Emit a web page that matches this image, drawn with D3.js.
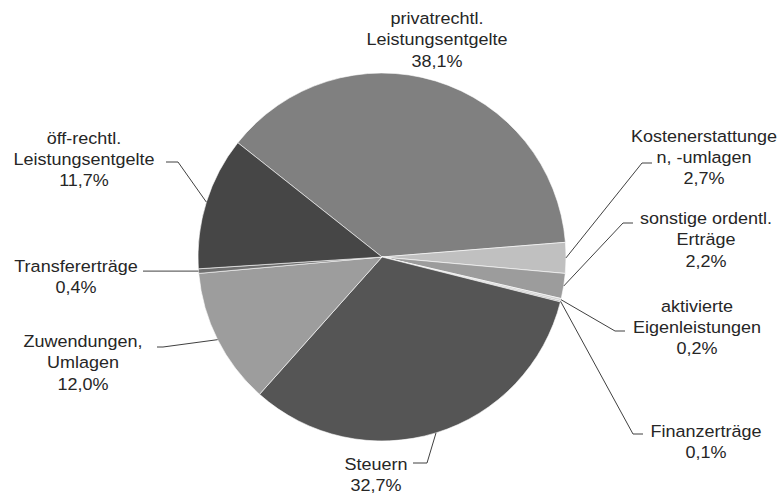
<!DOCTYPE html>
<html>
<head>
<meta charset="utf-8">
<script src="https://cdn.jsdelivr.net/npm/d3@7"></script>
<style>
body{margin:0;background:#fff;}
text{font-family:"Liberation Sans",Arial,sans-serif;font-size:17px;fill:#262626;}
</style>
</head>
<body>
<div id="chart"></div>
<script>
// data, clockwise starting with the big slice on top
var categories = [
    ['privatrechtl.', 'Leistungsentgelte'],
    ['Kostenerstattunge', 'n, -umlagen'],
    ['sonstige ordentl.', 'Erträge'],
    ['aktivierte', 'Eigenleistungen'],
    ['Finanzerträge'],
    ['Steuern'],
    ['Zuwendungen,', 'Umlagen'],
    ['Transfererträge'],
    ['öff-rechtl.', 'Leistungsentgelte']
];
var values = [38.1, 2.7, 2.2, 0.2, 0.1, 32.7, 12.0, 0.4, 11.7];
var colors = ['#808080', '#c0c0c0', '#9c9c9c', '#d4d4d4', '#8a8a8a', '#555555', '#9d9d9d', '#707070', '#464646'];

// where each label sits (text centre x, first baseline y, leader elbow, leader end)
var labelPos = [
    {x:437, y:24,  elbow:null},
    {x:704, y:141.5, elbow:[642,163], end:652},
    {x:706, y:224, elbow:[623,223], end:633},
    {x:697, y:311.5, elbow:[615,331], end:625},
    {x:706, y:437, elbow:[633,434], end:643},
    {x:376, y:470, elbow:[427,463], end:413},
    {x:83,  y:347, elbow:[163,347], end:157},
    {x:76,  y:272, elbow:null, end:143},
    {x:84,  y:143.5, elbow:[178,162], end:166}
];

var W = 782, H = 495;
var cx = 382, cy = 257, r = 184;
var start = -51.6 * Math.PI / 180;
var lineH = 21.5, stretch = 1.06;

var svg = d3.select('#chart')
    .append('svg')
    .attr('width', W)
    .attr('height', H);

var pie = d3.pie()
    .sort(null)
    .value(function(d){ return d; })
    .startAngle(start)
    .endAngle(start + 2 * Math.PI);

var arcs = pie(values);

var arc = d3.arc().innerRadius(0).outerRadius(r);

var g = svg.append('g').attr('transform', 'translate(' + cx + ',' + cy + ')');

g.selectAll('path')
    .data(arcs)
    .enter().append('path')
    .attr('d', arc)
    .style('fill', function(d, i){ return colors[i]; })
    .style('stroke', '#fff')
    .style('stroke-width', 0.6);

// leader lines from the slice middle on the rim
var fmt = function(v){ return d3.format('.1f')(v).replace('.', ',') + '%'; };

arcs.forEach(function(a, i){
    var p = labelPos[i];
    var mid = (a.startAngle + a.endAngle) / 2;
    var ax = cx + r * Math.sin(mid), ay = cy - r * Math.cos(mid);
    if (p.end !== undefined) {
        var pts = [[ax, ay]];
        if (p.elbow) {
            pts.push(p.elbow);
            pts.push([p.end, p.elbow[1]]);
        } else {
            pts.push([p.end, ay]);
        }
        svg.append('path')
            .attr('d', d3.line()(pts))
            .style('fill', 'none')
            .style('stroke', '#404040')
            .style('stroke-width', 1);
    }
    var lines = categories[i].concat([fmt(values[i])]);
    var t = svg.append('text')
        .attr('text-anchor', 'middle')
        .attr('transform', 'translate(' + p.x + ',' + p.y + ') scale(' + stretch + ',1)');
    lines.forEach(function(s, k){
        t.append('tspan')
            .attr('x', 0)
            .attr('y', k * lineH)
            .text(s);
    });
});
</script>
</body>
</html>
